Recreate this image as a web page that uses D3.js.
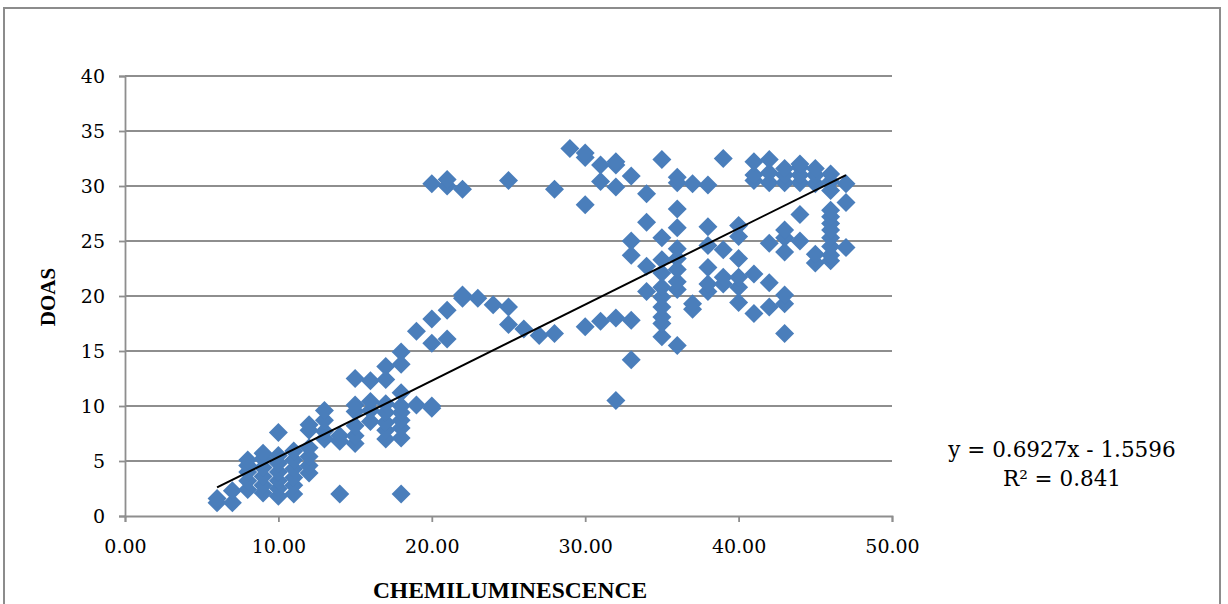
<!DOCTYPE html>
<html>
<head>
<meta charset="utf-8">
<script src="https://cdn.jsdelivr.net/npm/d3@7"></script>
<style>
  body { margin: 0; background: #fff; }
  svg { display: block; }
  .tick text { font-family: "DejaVu Serif", serif; font-size: 19px; fill: #000; }
</style>
</head>
<body>
<svg id="chart"></svg>
<script>
// CHEMILUMINESCENCE readings (x) and the DOAS readings seen at each of them (y)
const chemValues = [6, 7, 8, 9, 10, 11, 12, 13, 14, 15, 16, 17, 18, 19, 20, 21, 22, 23, 24, 25, 26, 27, 28, 29, 30,
    31, 32, 33, 34, 35, 36, 37, 38, 39, 40, 41, 42, 43, 44, 45, 46, 47];
const doasValues = [
    [1.2, 1.6],
    [1.2, 2.3],
    [2.4, 3.2, 4.0, 4.6, 5.1],
    [2.1, 2.8, 3.6, 4.4, 5.2, 5.7],
    [1.8, 2.5, 3.2, 4.0, 4.8, 5.5, 7.6],
    [2.0, 2.8, 3.5, 4.3, 5.1, 5.9],
    [3.9, 4.6, 5.4, 6.2, 7.8, 8.3],
    [7.0, 7.7, 8.7, 9.6],
    [2.0, 6.8, 7.3],
    [6.6, 7.3, 8.2, 9.5, 10.1, 12.5],
    [8.6, 9.6, 10.4, 12.3],
    [7.0, 7.8, 8.5, 9.4, 10.2, 12.4, 13.6],
    [2.0, 7.1, 8.0, 8.7, 9.4, 10.0, 11.2, 13.8, 14.9],
    [10.1, 16.8],
    [9.8, 10.0, 15.7, 17.9, 30.2],
    [16.1, 18.7, 30.0, 30.6],
    [19.8, 20.1, 29.7],
    [19.8],
    [19.2],
    [17.4, 19.0, 30.5],
    [17.0],
    [16.4],
    [16.6, 29.7],
    [33.4],
    [17.2, 28.3, 32.6, 33.0],
    [17.7, 30.4, 31.9],
    [10.5, 18.0, 29.9, 31.9, 32.2],
    [14.2, 17.8, 23.7, 25.0, 30.9],
    [20.4, 22.7, 26.7, 29.3],
    [16.3, 17.5, 18.1, 19.0, 19.9, 20.8, 22.1, 23.3, 25.3, 32.4],
    [15.5, 20.6, 21.3, 22.4, 23.4, 24.3, 26.2, 27.9, 30.3, 30.8],
    [18.8, 19.3, 30.2],
    [20.4, 21.1, 22.6, 24.6, 26.3, 30.1],
    [21.1, 21.7, 24.2, 32.5],
    [19.4, 20.8, 21.7, 23.4, 25.4, 26.4],
    [18.4, 22.0, 30.5, 31.0, 32.2],
    [19.0, 21.2, 24.8, 30.3, 31.2, 32.4],
    [16.6, 19.3, 20.1, 24.0, 25.3, 26.0, 30.3, 31.0, 31.6],
    [25.0, 27.4, 30.3, 31.0, 31.7, 32.0],
    [23.0, 23.8, 30.2, 31.0, 31.6],
    [23.2, 23.7, 24.5, 25.3, 26.0, 26.6, 27.2, 27.8, 29.6, 30.4, 31.1],
    [24.4, 28.5, 30.2]
];
const xTicks = [0, 10, 20, 30, 40, 50];
const yTicks = [0, 5, 10, 15, 20, 25, 30, 35, 40];
const slope = 0.6927;
const intercept = -1.5596;
const equationLines = ["y = 0.6927x - 1.5596", "R² = 0.841"];

const points = [];
chemValues.forEach((x, i) => doasValues[i].forEach(y => points.push({ x, y })));

const width = 1228;
const height = 604;
const margin = { top: 76, right: 336, bottom: 88, left: 125 };

const svg = d3.select("#chart")
    .attr("width", width)
    .attr("height", height);

// outer chart frame
svg.append("rect")
    .attr("x", 4).attr("y", 8)
    .attr("width", 1216).attr("height", 620)
    .attr("fill", "none")
    .attr("stroke", "#8c8c8c")
    .attr("stroke-width", 2);

const xScale = d3.scaleLinear()
    .domain([0, 50])
    .range([margin.left, width - margin.right]);

const yScale = d3.scaleLinear()
    .domain([0, 40])
    .range([height - margin.bottom, margin.top]);

// gridlines
svg.append("g")
    .selectAll("line")
    .data(yTicks.filter(d => d > 0))
    .enter().append("line")
    .attr("x1", xScale(0))
    .attr("x2", xScale(50))
    .attr("y1", d => yScale(d))
    .attr("y2", d => yScale(d))
    .attr("stroke", "#8e8e8e")
    .attr("stroke-width", 1.8);

const xAxis = svg.append("g")
    .attr("transform", `translate(0, ${yScale(0)})`)
    .call(d3.axisBottom(xScale).tickValues(xTicks).tickFormat(d3.format(".2f")).tickSize(6).tickPadding(18));

const yAxis = svg.append("g")
    .attr("transform", `translate(${xScale(0)}, 0)`)
    .call(d3.axisLeft(yScale).tickValues(yTicks).tickSize(6).tickPadding(14));

[xAxis, yAxis].forEach(ax => {
    ax.select(".domain").attr("stroke", "#8e8e8e").attr("stroke-width", 1.8);
    ax.selectAll(".tick line").attr("stroke", "#8e8e8e").attr("stroke-width", 1.8);
});
yAxis.selectAll(".tick text").attr("dy", "0.35em");

// diamonds
svg.append("g")
    .selectAll("path")
    .data(points)
    .enter().append("path")
    .attr("transform", d => `translate(${xScale(d.x)}, ${yScale(d.y)})`)
    .attr("d", "M0,-9.5L9.5,0L0,9.5L-9.5,0Z")
    .attr("fill", "#4a7ebb");

// linear trendline across the data range
const xMin = d3.min(chemValues);
const xMax = d3.max(chemValues);
svg.append("line")
    .attr("x1", xScale(xMin))
    .attr("y1", yScale(slope * xMin + intercept))
    .attr("x2", xScale(xMax))
    .attr("y2", yScale(slope * xMax + intercept))
    .attr("stroke", "#000")
    .attr("stroke-width", 2);

// equation label
svg.append("text")
    .attr("x", 1062)
    .attr("y", 457)
    .attr("text-anchor", "middle")
    .style("font-family", "DejaVu Serif, serif")
    .style("font-size", "21.5px")
    .selectAll("tspan")
    .data(equationLines)
    .enter().append("tspan")
    .attr("x", 1062)
    .attr("dy", (d, i) => i === 0 ? 0 : 29)
    .text(d => d);

// axis titles
svg.append("text")
    .attr("x", 510)
    .attr("y", 598)
    .attr("text-anchor", "middle")
    .style("font-family", "Liberation Serif, serif")
    .style("font-weight", "bold")
    .style("font-size", "23.5px")
    .text("CHEMILUMINESCENCE");

svg.append("text")
    .attr("transform", "translate(55, 297) rotate(-90)")
    .attr("text-anchor", "middle")
    .style("font-family", "Liberation Serif, serif")
    .style("font-weight", "bold")
    .style("font-size", "21px")
    .text("DOAS");
</script>
</body>
</html>
